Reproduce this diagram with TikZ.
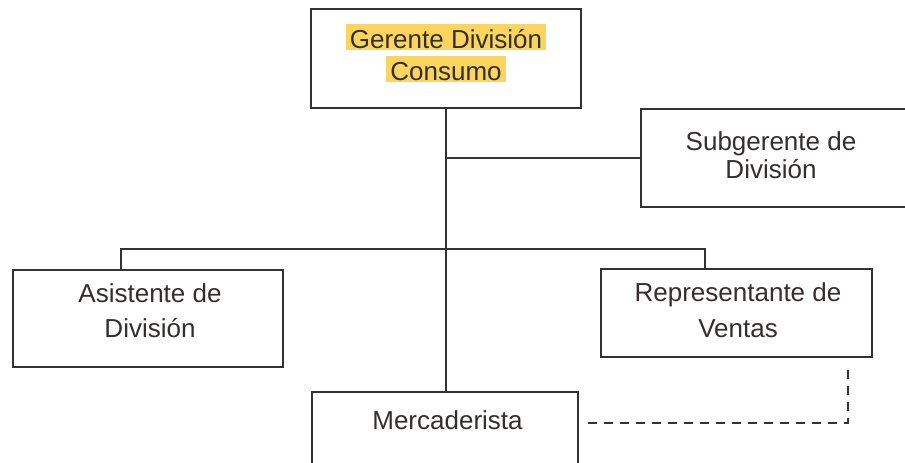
\documentclass[tikz,border=0pt]{standalone}
\usepackage{fontspec}
\setmainfont{Liberation Sans}
\definecolor{inkline}{HTML}{333333}
\definecolor{inktext}{HTML}{352E2E}
\definecolor{hl}{HTML}{FBD55E}
% yellow text highlight, one line at a time
\newcommand{\hlline}[1]{{\setlength{\fboxsep}{0.5pt}\colorbox{hl}{\hspace{1.5pt}\rule[-0.5pt]{0pt}{12pt}#1\hspace{1.5pt}}}}
\begin{document}
\begin{tikzpicture}[x=0.5pt,y=-0.5pt,
  orgbox/.style={draw=inkline,line width=1pt,rectangle,inner sep=0pt,outer sep=0pt},
  lbl/.style={text=inktext,align=center,inner sep=0pt},
  link/.style={draw=inkline,line width=1pt},
  dotlink/.style={draw=inkline,line width=1pt,dash pattern=on 4.5pt off 3.5pt}]
\useasboundingbox (0,0) rectangle (905,462);
\clip (0,0) rectangle (905,462);
\fill[white] (0,0) rectangle (905,462);

% boxes
\node[orgbox,minimum width=135pt,minimum height=49.5pt,
  label={[lbl,yshift=2.75pt,font=\fontsize{13}{16}\selectfont]center:\hlline{Gerente División}\\\hlline{Consumo}}]
  (top) at (446,58.5) {};
\node[orgbox,minimum width=132.5pt,minimum height=49pt,
  label={[lbl,xshift=-1.25pt,yshift=1.25pt,font=\fontsize{13}{14}\selectfont]center:Subgerente de\\División}]
  (sub) at (773.5,158) {};
\node[orgbox,minimum width=135pt,minimum height=48.5pt,
  label={[lbl,xshift=1pt,yshift=4pt,font=\fontsize{13}{17.5}\selectfont]center:Asistente de\\División}]
  (asis) at (148,318.5) {};
\node[orgbox,minimum width=135.5pt,minimum height=44pt,
  label={[lbl,xshift=0.75pt,yshift=1.5pt,font=\fontsize{13}{18}\selectfont]center:Representante de\\Ventas}]
  (rep) at (736.5,313) {};
\node[orgbox,minimum width=133pt,minimum height=64pt,
  label={[lbl,xshift=1.25pt,yshift=18pt,font=\fontsize{13}{16}\selectfont]center:Mercaderista}]
  (merc) at (445,456) {};

% solid reporting lines
\coordinate (ja) at (121,249);
\coordinate (jr) at (705,249);
\draw[link] (top.south) -- (top.south |- merc.north);
\draw[link] (sub.west) -- (sub.west -| top.south);
\draw[link] (ja |- asis.north) -- (ja) -- (jr) -- (jr |- rep.north);

% dashed coordination line
\coordinate (d1) at (588,423);
\coordinate (d2) at (848,367);
\draw[dotlink] (d1) -| (d2);
\end{tikzpicture}
\end{document}
